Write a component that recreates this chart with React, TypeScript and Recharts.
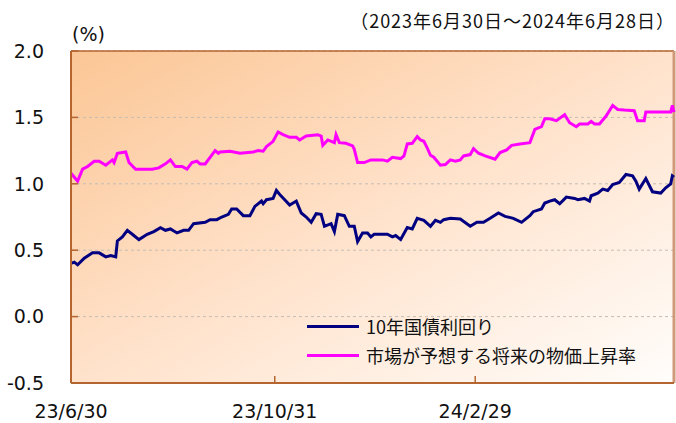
import React from "react";
import { CartesianGrid, Line, LineChart, ReferenceLine, XAxis, YAxis } from "recharts";

// x = days since 2023/6/30 (calendar days)
const yieldDays = [
  0, 2, 4, 8, 13, 17, 21, 24, 27, 28,
  31, 34, 37, 41, 46, 50, 54, 57, 60, 64,
  68, 71, 74, 81, 84, 88, 91, 95, 97, 100,
  104, 108, 111, 115, 116, 118, 122, 124, 126, 129,
  132, 136, 139, 142, 145, 148, 151, 153, 157, 159,
  161, 165, 168, 171, 173, 176, 179, 181, 183, 186,
  191, 194, 196, 199, 203, 206, 209, 213, 217, 220,
  223, 225, 229, 235, 241, 245, 249, 253, 258, 262,
  267, 272, 274, 277, 279, 284, 286, 289, 292, 295,
  299, 304, 306, 310, 313, 314, 318, 321, 324, 327,
  331, 335, 339, 341, 343, 347, 351, 356, 359, 362,
  363, 364,
];
const yieldValues = [
  0.4, 0.41, 0.39, 0.44, 0.48, 0.48, 0.45, 0.46, 0.45, 0.57,
  0.6, 0.65, 0.62, 0.58, 0.62, 0.64, 0.67, 0.65, 0.66, 0.63,
  0.65, 0.65, 0.7, 0.71, 0.73, 0.73, 0.75, 0.77, 0.81, 0.81,
  0.76, 0.76, 0.83, 0.87, 0.85, 0.88, 0.89, 0.95, 0.92, 0.88,
  0.84, 0.87, 0.78, 0.75, 0.71, 0.775, 0.77, 0.68, 0.7, 0.64,
  0.77, 0.76, 0.68, 0.68, 0.565, 0.63, 0.63, 0.6, 0.62, 0.62,
  0.62, 0.6, 0.61, 0.58, 0.67, 0.66, 0.74, 0.725, 0.68, 0.725,
  0.71, 0.73, 0.74, 0.735, 0.68, 0.71, 0.71, 0.74, 0.78, 0.755,
  0.74, 0.71, 0.73, 0.76, 0.79, 0.81, 0.855, 0.87, 0.88, 0.85,
  0.9, 0.89, 0.88, 0.89, 0.87, 0.91, 0.93, 0.96, 0.95, 0.995,
  1.01, 1.07, 1.06, 1.02, 0.96, 1.04, 0.94, 0.93, 0.97, 1.0,
  1.06, 1.05,
];

const inflationDays = [
  0, 4, 7, 10, 14, 17, 21, 25, 26, 28,
  33, 35, 39, 49, 53, 57, 60, 63, 67, 70,
  73, 76, 78, 81, 87, 89, 90, 96, 102, 110,
  113, 116, 118, 122, 125, 128, 132, 136, 138, 142,
  149, 151, 152, 155, 159, 160, 162, 166, 170, 171,
  173, 177, 181, 186, 188, 191, 194, 199, 201, 203,
  206, 209, 211, 213, 215, 217, 219, 223, 226, 229,
  232, 235, 237, 241, 243, 246, 250, 256, 259, 263,
  266, 271, 277, 280, 284, 286, 289, 293, 298, 301,
  305, 307, 312, 314, 316, 319, 323, 327, 330, 334,
  340, 342, 346, 347, 352, 358, 362, 363, 364,
];
const inflationValues = [
  1.08, 1.02, 1.11, 1.13, 1.17, 1.17, 1.14, 1.18, 1.16, 1.23,
  1.24, 1.16, 1.11, 1.11, 1.12, 1.15, 1.18, 1.13, 1.13, 1.11,
  1.16, 1.17, 1.15, 1.15, 1.25, 1.23, 1.24, 1.245, 1.23, 1.24,
  1.25, 1.245, 1.28, 1.32, 1.39, 1.37, 1.35, 1.35, 1.33, 1.36,
  1.37, 1.36, 1.29, 1.33, 1.31, 1.37, 1.31, 1.305, 1.285, 1.26,
  1.16, 1.16, 1.18, 1.18, 1.18, 1.17, 1.2, 1.19, 1.21, 1.3,
  1.305, 1.355, 1.33, 1.32, 1.27, 1.215, 1.2, 1.14, 1.145, 1.18,
  1.17, 1.18, 1.21, 1.22, 1.265, 1.23, 1.21, 1.185, 1.235, 1.255,
  1.29, 1.3, 1.31, 1.41, 1.43, 1.49, 1.49, 1.475, 1.52, 1.46,
  1.43, 1.45, 1.45, 1.47, 1.45, 1.45, 1.51, 1.59, 1.56, 1.555,
  1.55, 1.475, 1.475, 1.54, 1.54, 1.54, 1.54, 1.59, 1.54,
];

const seriesNames = ["10年国債利回り", "市場が予想する将来の物価上昇率"];
const seriesColors = ["#000080", "#ff00ff"];

const tickDays = [0, 123, 244];
const tickLabels = ["23/6/30", "23/10/31", "24/2/29"];
const yTicks = [-0.5, 0, 0.5, 1.0, 1.5, 2.0];
const LAST_DAY = 364;

const yieldData = yieldDays.map((day, i) => ({ day, v: yieldValues[i] }));
const inflationData = inflationDays.map((day, i) => ({ day, v: inflationValues[i] }));
const seriesData = [yieldData, inflationData];

const BROWN = "#b5652f";
const AXIS_FONT = "'DejaVu Sans', Verdana, sans-serif";
const JP_FONT = "'Noto Sans CJK JP', sans-serif";

function YTick(props: any) {
  const { x, y, payload } = props;
  return (
    <g>
      <line x1={x + 27} x2={x + 34} y1={y} y2={y} stroke={BROWN} strokeWidth={1.5} />
      <text x={x} y={y} dy="0.36em" textAnchor="end" fontSize={19} fontFamily={AXIS_FONT} fill="#111">
        {payload.value.toFixed(1)}
      </text>
    </g>
  );
}

function XTick(props: any) {
  const { x, y, payload } = props;
  const idx = tickDays.indexOf(payload.value);
  return (
    <g>
      <line x1={x} x2={x} y1={y} y2={y - 7} stroke={BROWN} strokeWidth={1.5} />
      <text x={x} y={y} dy={35} textAnchor="middle" fontSize={19} fontFamily={AXIS_FONT} fill="#111">
        {tickLabels[idx]}
      </text>
    </g>
  );
}

export default function App() {
  return (
    <div style={{ position: "absolute", left: 0, top: 0, width: 676, height: 423, background: "#fff" }}>
      <div style={{ position: "absolute", left: 72, top: 22, fontFamily: AXIS_FONT, fontSize: 19, lineHeight: "24px", color: "#111" }}>
        (%)
      </div>
      <div
        style={{
          position: "absolute",
          right: 1,
          top: 7,
          fontFamily: JP_FONT,
          fontSize: 18,
          letterSpacing: 1,
          lineHeight: "26px",
          color: "#111",
          whiteSpace: "nowrap",
        }}
      >
        （2023年6月30日～2024年6月28日）
      </div>
      <LineChart width={676} height={423} margin={{ top: 51, right: 2, bottom: 0, left: 0 }}>
        <defs>
          <linearGradient id="bgGrad" x1="0" y1="0" x2="1" y2="1">
            <stop offset="0%" stopColor="#fbc695" />
            <stop offset="50%" stopColor="#ffe2cb" />
            <stop offset="100%" stopColor="#fffdfb" />
          </linearGradient>
        </defs>
        <CartesianGrid vertical={false} fill="url(#bgGrad)" stroke="#c4bdb6" strokeDasharray="3 3" />
        <XAxis
          type="number"
          dataKey="day"
          domain={[0, LAST_DAY]}
          ticks={tickDays}
          tick={<XTick />}
          tickLine={false}
          tickSize={0}
          tickMargin={0}
          height={40}
          axisLine={{ stroke: BROWN, strokeWidth: 2 }}
          allowDuplicatedCategory={false}
        />
        <YAxis
          type="number"
          domain={[-0.5, 2.0]}
          ticks={yTicks}
          width={71}
          tick={<YTick />}
          tickLine={false}
          tickSize={0}
          tickMargin={27}
          axisLine={{ stroke: BROWN, strokeWidth: 2 }}
          interval={0}
        />
        <ReferenceLine y={2.0} stroke={BROWN} strokeWidth={1.5} />
        <ReferenceLine x={LAST_DAY} stroke="#d09a7a" strokeWidth={3} />
        {seriesNames.map((name, i) => (
          <Line
            key={name}
            data={seriesData[i]}
            dataKey="v"
            name={name}
            type="linear"
            stroke={seriesColors[i]}
            strokeWidth={3}
            dot={false}
            isAnimationActive={false}
          />
        ))}
      </LineChart>
      <div style={{ position: "absolute", left: 307, top: 312, fontFamily: JP_FONT, fontSize: 18, color: "#111" }}>
        {seriesNames.map((name, i) => (
          <div key={name} style={{ display: "flex", alignItems: "center", height: 29 }}>
            <span style={{ display: "inline-block", width: 52, height: 3, background: seriesColors[i], marginRight: 7 }} />
            <span style={{ lineHeight: "29px" }}>{name}</span>
          </div>
        ))}
      </div>
    </div>
  );
}
